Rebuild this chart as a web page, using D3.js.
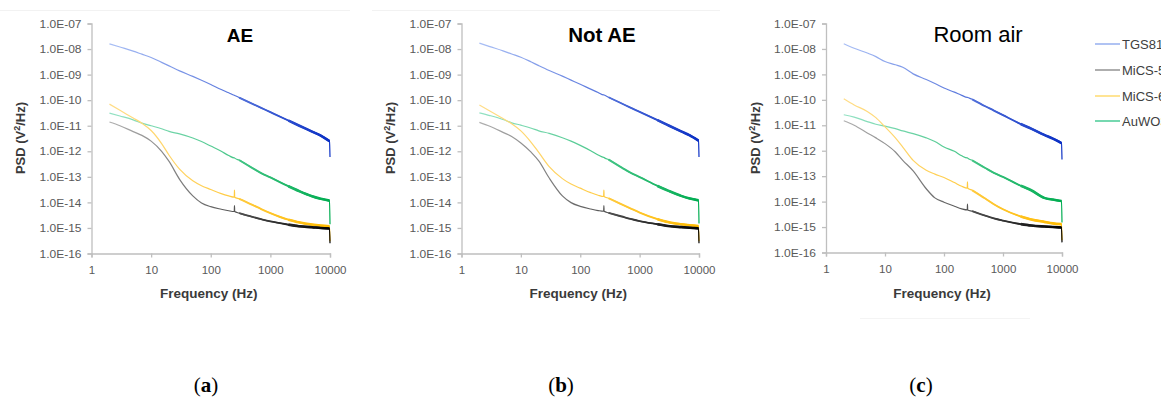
<!DOCTYPE html>
<html><head><meta charset="utf-8">
<script src="https://cdn.jsdelivr.net/npm/d3@7"></script>
<style>
html,body{margin:0;padding:0;background:#fff;}
svg{display:block;}
</style></head>
<body>
<svg id="chart" width="1161" height="401"></svg>
<script>
// ---------- DATA ----------
const freq = [2, 3, 5, 7, 10, 15, 20, 30, 50, 70, 100, 150, 200, 248, 250, 252, 300, 500, 700, 1000, 2000, 3000, 5000, 7000, 9800, 10000];

const panelTitles = ["AE", "Not AE", "Room air"];
const panelCaptions = ["a", "b", "c"];
const seriesNames = ["TGS8100", "MiCS-5524", "MiCS-6814", "AuWO3"];

const yTickValues = [1e-16, 1e-15, 1e-14, 1e-13, 1e-12, 1e-11, 1e-10, 1e-9, 1e-8, 1e-7];
const yTickLabels = ["1.0E-16", "1.0E-15", "1.0E-14", "1.0E-13", "1.0E-12", "1.0E-11", "1.0E-10", "1.0E-09", "1.0E-08", "1.0E-07"];
const xTickValues = [1, 10, 100, 1000, 10000];
const xTickLabels = ["1", "10", "100", "1000", "10000"];

// Panel (a) AE
const tgsA  = [1.6e-8, 1.2e-8, 8.3e-9, 6.3e-9, 4.7e-9, 3.0e-9, 2.2e-9, 1.4e-9, 8.5e-10, 6.0e-10, 4.1e-10, 2.6e-10, 1.95e-10, 1.55e-10, 1.54e-10, 1.53e-10, 1.26e-10, 7.2e-11, 5.0e-11, 3.4e-11, 1.6e-11, 1.02e-11, 5.9e-12, 4.1e-12, 2.5e-12, 6e-13];
const mics1A = [1.4e-11, 1.0e-11, 5.9e-12, 4.2e-12, 2.5e-12, 1.0e-12, 4.0e-13, 8e-14, 1.8e-14, 9.5e-15, 6.8e-15, 5.4e-15, 4.7e-15, 4.4e-15, 7.5e-15, 4.4e-15, 3.8e-15, 2.7e-15, 2.2e-15, 1.8e-15, 1.35e-15, 1.17e-15, 1.07e-15, 1.0e-15, 9.5e-16, 2.5e-16];
const mics2A = [7e-11, 4.0e-11, 2.0e-11, 1.26e-11, 6.5e-12, 2.0e-12, 7e-13, 2.0e-13, 7e-14, 4.5e-14, 3.2e-14, 2.2e-14, 1.8e-14, 1.6e-14, 3.0e-14, 1.6e-14, 1.38e-14, 8e-15, 5.5e-15, 3.8e-15, 2.1e-15, 1.66e-15, 1.35e-15, 1.23e-15, 1.15e-15, 3e-16];
const auwoA = [3.1e-11, 2.4e-11, 1.7e-11, 1.26e-11, 1.0e-11, 7.6e-12, 6.0e-12, 4.8e-12, 3.3e-12, 2.4e-12, 1.6e-12, 1.0e-12, 6.8e-13, 5.5e-13, 5.5e-13, 5.4e-13, 4.5e-13, 2.2e-13, 1.4e-13, 9.5e-14, 4.3e-14, 2.8e-14, 1.74e-14, 1.38e-14, 1.17e-14, 1.4e-15];

// Panel (b) Not AE
const tgsB  = [1.7e-8, 1.25e-8, 8.5e-9, 6.4e-9, 4.8e-9, 3.1e-9, 2.25e-9, 1.45e-9, 8.7e-10, 6.1e-10, 4.2e-10, 2.7e-10, 2.0e-10, 1.6e-10, 1.6e-10, 1.59e-10, 1.3e-10, 7.4e-11, 5.1e-11, 3.5e-11, 1.65e-11, 1.05e-11, 6.0e-12, 4.2e-12, 2.6e-12, 6e-13];
const mics1B = [1.35e-11, 9.5e-12, 5.5e-12, 3.8e-12, 2.1e-12, 9e-13, 4.2e-13, 9e-14, 1.8e-14, 9.8e-15, 7.0e-15, 5.5e-15, 4.8e-15, 4.5e-15, 7.5e-15, 4.5e-15, 3.9e-15, 2.8e-15, 2.25e-15, 1.85e-15, 1.4e-15, 1.2e-15, 1.08e-15, 1.02e-15, 9.6e-16, 2.5e-16];
const mics2B = [6.5e-11, 3.8e-11, 1.9e-11, 1.2e-11, 6.3e-12, 2.2e-12, 9e-13, 2.5e-13, 8.5e-14, 5.2e-14, 3.6e-14, 2.4e-14, 1.9e-14, 1.7e-14, 3.0e-14, 1.7e-14, 1.45e-14, 8.3e-15, 5.8e-15, 4.0e-15, 2.2e-15, 1.7e-15, 1.4e-15, 1.27e-15, 1.18e-15, 3e-16];
const auwoB = [3.2e-11, 2.5e-11, 1.75e-11, 1.3e-11, 1.05e-11, 8.0e-12, 6.3e-12, 5.0e-12, 3.4e-12, 2.5e-12, 1.7e-12, 1.05e-12, 7.2e-13, 5.8e-13, 5.8e-13, 5.7e-13, 4.7e-13, 2.3e-13, 1.45e-13, 9.8e-14, 4.4e-14, 2.9e-14, 1.8e-14, 1.42e-14, 1.2e-14, 1.5e-15];

// Panel (c) Room air
const tgsC  = [1.6e-8, 1.07e-8, 6.9e-9, 5.0e-9, 3.2e-9, 2.4e-9, 1.9e-9, 1.05e-9, 6.3e-10, 4.4e-10, 2.9e-10, 2.0e-10, 1.5e-10, 1.25e-10, 1.25e-10, 1.24e-10, 1.05e-10, 5.6e-11, 3.8e-11, 2.5e-11, 1.12e-11, 7.4e-12, 4.2e-12, 3.0e-12, 2.0e-12, 4.5e-13];
const mics1C = [1.5e-11, 1.0e-11, 5.0e-12, 3.2e-12, 1.9e-12, 8.9e-13, 4.2e-13, 1.6e-13, 3.2e-14, 1.4e-14, 9.5e-15, 6.6e-15, 5.2e-15, 4.7e-15, 8e-15, 4.7e-15, 4.2e-15, 2.8e-15, 2.2e-15, 1.8e-15, 1.3e-15, 1.15e-15, 1.05e-15, 1.0e-15, 9.6e-16, 2.5e-16];
const mics2C = [1.1e-10, 6.3e-11, 3.5e-11, 2.0e-11, 8.7e-12, 3.2e-12, 1.4e-12, 4.2e-13, 1.7e-13, 1.2e-13, 8.9e-14, 5.6e-14, 4.0e-14, 3.4e-14, 6e-14, 3.4e-14, 2.8e-14, 1.32e-14, 7.9e-15, 5.0e-15, 2.6e-15, 2.0e-15, 1.6e-15, 1.4e-15, 1.3e-15, 3e-16];
const auwoC = [2.6e-11, 2.1e-11, 1.4e-11, 1.1e-11, 9.3e-12, 7.4e-12, 6.0e-12, 4.7e-12, 3.2e-12, 2.3e-12, 1.4e-12, 9.5e-13, 6.3e-13, 5.2e-13, 5.2e-13, 5.1e-13, 4.2e-13, 2.1e-13, 1.35e-13, 9.3e-14, 4.2e-14, 2.8e-14, 1.4e-14, 1.2e-14, 1.05e-14, 1.5e-15];

const panelSeries = [
  [tgsA, mics1A, mics2A, auwoA],
  [tgsB, mics1B, mics2B, auwoB],
  [tgsC, mics1C, mics2C, auwoC]
];

// ---------- STYLE ----------
const SANS = "'Liberation Sans', Arial, sans-serif";
const SERIF = "'Liberation Serif', 'DejaVu Serif', serif";
const seriesColors = [
  ["#a9bff5", "#0a2fc4"],
  ["#b0b0b0", "#000000"],
  ["#ffdd88", "#ffbb00"],
  ["#94e2c4", "#00ac50"]
];
const legendColors = ["#8fa9ee", "#8c8c8c", "#ffd966", "#3cc88e"];

const panels = [
  {x0: 91.5, x1: 330, y0: 23.5, y1: 253.5, cx: 240, titleW: "bold", titleSize: 19, ylabX: 25, capX: 206},
  {x0: 461.5, x1: 699, y0: 23.5, y1: 253.5, cx: 602, titleW: "bold", titleSize: 20.5, ylabX: 395, capX: 561},
  {x0: 826, x1: 1062, y0: 23.5, y1: 252.5, cx: 978, titleW: "normal", titleSize: 22, ylabX: 760, capX: 921}
];

const svg = d3.select("#chart");
const defs = svg.append("defs");

// faint chart-area borders
svg.append("line").attr("x1", 0).attr("x2", 350).attr("y1", 10.5).attr("y2", 10.5).attr("stroke", "#f2f2f2");
svg.append("line").attr("x1", 372).attr("x2", 720).attr("y1", 10.5).attr("y2", 10.5).attr("stroke", "#f2f2f2");
svg.append("line").attr("x1", 860).attr("x2", 1030).attr("y1", 318.5).attr("y2", 318.5).attr("stroke", "#f4f4f4");

panels.forEach((p, pi) => {
  const x = d3.scaleLog().domain([1, 10000]).range([p.x0, p.x1]);
  const y = d3.scaleLog().domain([1e-16, 1e-7]).range([p.y1, p.y0]);
  const g = svg.append("g");

  // y axis
  const yAxis = d3.axisLeft(y).tickValues(yTickValues)
    .tickFormat((d, i) => yTickLabels[i]).tickSize(4).tickPadding(6);
  const ya = g.append("g").attr("transform", `translate(${p.x0},0)`).call(yAxis);
  ya.select(".domain").attr("stroke", "#bfbfbf").attr("stroke-width", 1.3);
  ya.selectAll(".tick line").attr("stroke", "#bfbfbf").attr("stroke-width", 1.3);
  ya.selectAll(".tick text").attr("fill", "#595959").attr("font-size", 11.5)
    .attr("font-family", SANS).attr("textLength", 42).attr("lengthAdjust", "spacingAndGlyphs");

  // x axis
  const xAxis = d3.axisBottom(x).tickValues(xTickValues)
    .tickFormat((d, i) => xTickLabels[i]).tickSize(4).tickPadding(8);
  const xa = g.append("g").attr("transform", `translate(0,${p.y1})`).call(xAxis);
  xa.select(".domain").attr("stroke", "#bfbfbf").attr("stroke-width", 1.3);
  xa.selectAll(".tick line").attr("stroke", "#bfbfbf").attr("stroke-width", 1.3);
  xa.selectAll(".tick text").attr("fill", "#595959").attr("font-size", 11.5)
    .attr("font-family", SANS);

  // series
  const series = panelSeries[pi];
  // draw order: TGS, AuWO, MiCS-2, MiCS-1
  [0, 3, 2, 1].forEach(si => {
    const vals = series[si];
    const gid = `grad-${pi}-${si}`;
    const grad = defs.append("linearGradient").attr("id", gid)
      .attr("gradientUnits", "userSpaceOnUse")
      .attr("x1", x(freq[0])).attr("x2", x(10000)).attr("y1", 0).attr("y2", 0);
    grad.append("stop").attr("offset", "0%").attr("stop-color", seriesColors[si][0]);
    grad.append("stop").attr("offset", "45%").attr("stop-color", d3.interpolateRgb(seriesColors[si][0], seriesColors[si][1])(0.4));
    grad.append("stop").attr("offset", "100%").attr("stop-color", seriesColors[si][1]);
    const pts = freq.map((f, i) => [f, vals[i]]);
    const line = d3.line().x(d => x(d[0])).y(d => y(d[1])).curve(d3.curveMonotoneX);
    g.append("path").attr("d", line(pts)).attr("fill", "none")
      .attr("stroke", `url(#${gid})`).attr("stroke-width", 1.2).attr("stroke-linejoin", "round");
    g.append("path").attr("d", line(pts.filter(d => d[0] >= 300 && d[0] < 10000))).attr("fill", "none")
      .attr("stroke", `url(#${gid})`).attr("stroke-width", 1.9).attr("stroke-linejoin", "round");
    g.append("path").attr("d", line(pts.filter(d => d[0] >= 2000 && d[0] < 10000))).attr("fill", "none")
      .attr("stroke", `url(#${gid})`).attr("stroke-width", 2.6).attr("stroke-linejoin", "round");
  });

  // title
  g.append("text").attr("x", p.cx).attr("y", 42).attr("text-anchor", "middle")
    .attr("font-family", SANS)
    .attr("font-size", p.titleSize).attr("font-weight", p.titleW).attr("fill", "#000")
    .text(panelTitles[pi]);

  // axis titles
  g.append("text").attr("x", (p.x0 + p.x1) / 2 - 2).attr("y", 298).attr("text-anchor", "middle")
    .attr("font-family", SANS)
    .attr("font-size", 13.5).attr("font-weight", "bold").attr("fill", "#3a3a3a")
    .text("Frequency (Hz)");
  const yl = g.append("text").attr("transform", `translate(${p.ylabX},${138}) rotate(-90)`)
    .attr("font-family", SANS)
    .attr("text-anchor", "middle").attr("font-size", 13).attr("font-weight", "bold").attr("fill", "#3a3a3a");
  yl.append("tspan").text("PSD (V");
  yl.append("tspan").attr("baseline-shift", "super").attr("font-size", 9).text("2");
  yl.append("tspan").text("/Hz)");

  // caption
  const cap = svg.append("text").attr("x", p.capX).attr("y", 392).attr("text-anchor", "middle")
    .attr("font-family", SERIF).attr("font-size", 21).attr("fill", "#000");
  cap.append("tspan").text("(");
  cap.append("tspan").attr("font-weight", "bold").text(panelCaptions[pi]);
  cap.append("tspan").text(")");
});

// legend
const lg = svg.append("g");
const legendY = [44, 70, 96, 121];
seriesNames.forEach((n, i) => {
  lg.append("line").attr("x1", 1095).attr("x2", 1120).attr("y1", legendY[i]).attr("y2", legendY[i])
    .attr("stroke", legendColors[i]).attr("stroke-width", 1.4);
  lg.append("text").attr("x", 1122).attr("y", legendY[i] + 4.5).attr("font-size", 13)
    .attr("font-family", SANS).attr("fill", "#404040").text(n);
});
</script>
</body></html>
